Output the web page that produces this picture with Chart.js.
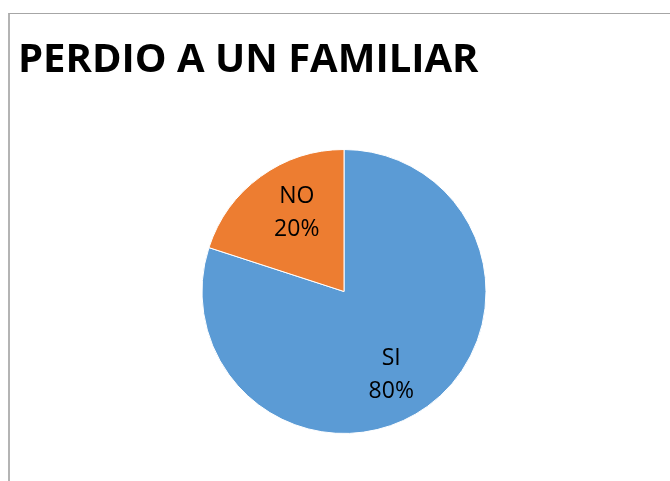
<!DOCTYPE html>
<html>
<head>
<meta charset="utf-8">
<script src="https://cdn.jsdelivr.net/npm/chart.js@4/dist/chart.umd.min.js"></script>
<style>
    html, body { margin: 0; padding: 0; background: #fff; overflow: hidden; }
    #wrap { position: relative; width: 670px; height: 481px; }
    #frame {
        position: absolute; left: 8px; top: 13px; width: 680px; height: 480px;
        border-top: 1px solid #a6a6a6; border-left: 2px solid #b4b4b4;
    }
    #chart { position: absolute; left: 0; top: 0; }
</style>
</head>
<body>
<div id="wrap">
    <div id="frame"></div>
    <canvas id="chart" width="670" height="481"></canvas>
</div>
<script>
const chartTitle = 'PERDIO A UN FAMILIAR';
const categories = ['SI', 'NO'];
const values = [80, 20];
const sliceColors = ['#5B9BD5', '#ED7D31'];

// draws "label\nxx%" inside every slice, like excel's data labels
const sliceLabels = {
    id: 'sliceLabels',
    afterDatasetsDraw(chart) {
        const ctx = chart.ctx;
        const meta = chart.getDatasetMeta(0);
        const data = chart.data.datasets[0].data;
        const total = data.reduce((a, b) => a + b, 0);
        ctx.save();
        ctx.font = '23px "Open Sans", sans-serif';
        ctx.fillStyle = '#000';
        ctx.textAlign = 'center';
        ctx.textBaseline = 'middle';
        meta.data.forEach((arc, i) => {
            const p = arc.getProps(['x', 'y', 'startAngle', 'endAngle', 'outerRadius'], true);
            // excel's best fit leans the labels a little clockwise
            const mid = (p.startAngle + p.endAngle) / 2 + 0.1;
            const r = p.outerRadius * 0.66;
            const cx = p.x + Math.cos(mid) * r;
            const cy = p.y + Math.sin(mid) * r;
            const pct = Math.round(data[i] / total * 100) + '%';
            ctx.fillText(chart.data.labels[i], cx, cy - 14);
            ctx.fillText(pct, cx, cy + 19);
        });
        ctx.restore();
    }
};

const ctx = document.getElementById('chart').getContext('2d');
const pieChart = new Chart(ctx, {
    type: 'pie',
    data: {
        labels: categories,
        datasets: [{
            data: values,
            backgroundColor: sliceColors,
            borderColor: '#ffffff',
            borderWidth: 1
        }]
    },
    options: {
        responsive: false,
        animation: false,
        layout: {
            padding: { left: 18, right: 0, top: 0, bottom: 47 }
        },
        plugins: {
            legend: { display: false },
            tooltip: { enabled: false },
            title: {
                display: true,
                text: chartTitle,
                align: 'start',
                color: '#000',
                font: { family: '"Open Sans", sans-serif', size: 40, weight: 'bold', lineHeight: 1.2 },
                padding: { top: 37, bottom: 64 }
            }
        }
    },
    plugins: [sliceLabels]
});
</script>
</body>
</html>
